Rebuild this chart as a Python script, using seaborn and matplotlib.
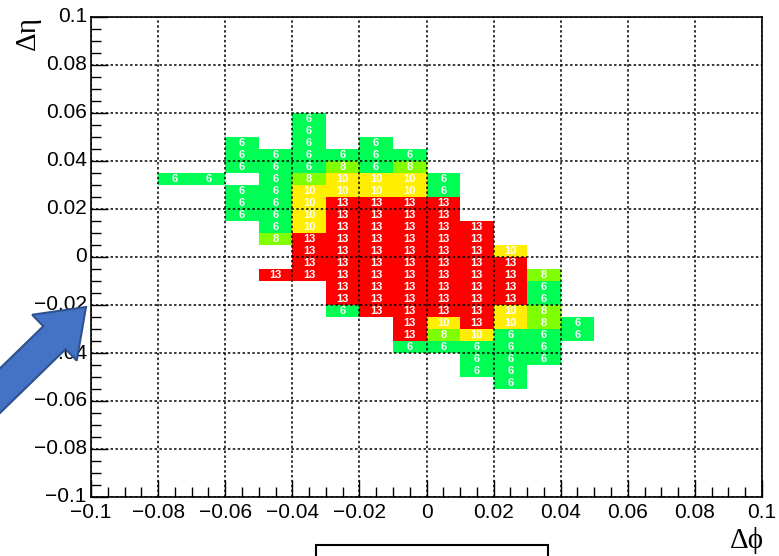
import numpy as np
import pandas as pd
import matplotlib
matplotlib.use("Agg")
import matplotlib.pyplot as plt
import seaborn as sns
from matplotlib.colors import ListedColormap
from matplotlib.ticker import MultipleLocator, FixedLocator
from matplotlib.patches import FancyArrow, Rectangle
from matplotlib.transforms import IdentityTransform

# ---------------- data ----------------
# lower edges of the filled bins
dphi_bins = [-0.08, -0.07, -0.06, -0.05, -0.04, -0.03, -0.02, -0.01, 0.00, 0.01, 0.02, 0.03, 0.04]
deta_bins = [0.055, 0.050, 0.045, 0.040, 0.035, 0.030, 0.025, 0.020, 0.015, 0.010, 0.005, 0.000,
             -0.005, -0.010, -0.015, -0.020, -0.025, -0.030, -0.035, -0.040, -0.045, -0.050, -0.055]
counts = [
    [0, 0, 0, 0, 6, 0, 0, 0, 0, 0, 0, 0, 0],
    [0, 0, 0, 0, 6, 0, 0, 0, 0, 0, 0, 0, 0],
    [0, 0, 6, 0, 6, 0, 6, 0, 0, 0, 0, 0, 0],
    [0, 0, 6, 6, 6, 6, 6, 6, 0, 0, 0, 0, 0],
    [0, 0, 6, 6, 6, 8, 6, 8, 0, 0, 0, 0, 0],
    [6, 6, 0, 6, 8, 10, 10, 10, 6, 0, 0, 0, 0],
    [0, 0, 6, 6, 10, 10, 10, 10, 6, 0, 0, 0, 0],
    [0, 0, 6, 6, 10, 13, 13, 13, 13, 0, 0, 0, 0],
    [0, 0, 6, 6, 10, 13, 13, 13, 13, 0, 0, 0, 0],
    [0, 0, 0, 6, 10, 13, 13, 13, 13, 13, 0, 0, 0],
    [0, 0, 0, 8, 13, 13, 13, 13, 13, 13, 0, 0, 0],
    [0, 0, 0, 0, 13, 13, 13, 13, 13, 13, 10, 0, 0],
    [0, 0, 0, 0, 13, 13, 13, 13, 13, 13, 13, 0, 0],
    [0, 0, 0, 13, 13, 13, 13, 13, 13, 13, 13, 8, 0],
    [0, 0, 0, 0, 0, 13, 13, 13, 13, 13, 13, 6, 0],
    [0, 0, 0, 0, 0, 13, 13, 13, 13, 13, 13, 6, 0],
    [0, 0, 0, 0, 0, 6, 13, 13, 13, 13, 10, 8, 0],
    [0, 0, 0, 0, 0, 0, 0, 13, 10, 13, 10, 8, 6],
    [0, 0, 0, 0, 0, 0, 0, 13, 8, 10, 6, 6, 6],
    [0, 0, 0, 0, 0, 0, 0, 6, 6, 6, 6, 6, 0],
    [0, 0, 0, 0, 0, 0, 0, 0, 0, 6, 6, 6, 0],
    [0, 0, 0, 0, 0, 0, 0, 0, 0, 6, 6, 0, 0],
    [0, 0, 0, 0, 0, 0, 0, 0, 0, 0, 6, 0, 0],
]
x_tick_values = [-0.1, -0.08, -0.06, -0.04, -0.02, 0.0, 0.02, 0.04, 0.06, 0.08, 0.1]
x_tick_labels = ["\u22120.1", "\u22120.08", "\u22120.06", "\u22120.04", "\u22120.02", "0",
                 "0.02", "0.04", "0.06", "0.08", "0.1"]
y_tick_values = [0.1, 0.08, 0.06, 0.04, 0.02, 0.0, -0.02, -0.04, -0.06, -0.08, -0.1]
y_tick_labels = ["0.1", "0.08", "0.06", "0.04", "0.02", "0",
                 "\u22120.02", "\u22120.04", "\u22120.06", "\u22120.08", "\u22120.1"]
x_label = "\u0394\u03d5"
y_label = "\u0394\u03b7"

# ---------------- full histogram grid ----------------
x_min, x_max, x_w = -0.1, 0.1, 0.01
y_min, y_max, y_h = -0.1, 0.1, 0.005
nx = int(round((x_max - x_min) / x_w))
ny = int(round((y_max - y_min) / y_h))
grid = np.zeros((ny, nx), dtype=int)
for r, eta in enumerate(deta_bins):
    i = int(round((y_max - y_h - eta) / y_h))
    for c, phi in enumerate(dphi_bins):
        j = int(round((phi - x_min) / x_w))
        grid[i, j] = counts[r][c]
x_cols = [round(x_min + x_w * j, 3) for j in range(nx)]
y_rows = [round(y_max - y_h * (i + 1), 3) for i in range(ny)]
df = pd.DataFrame(grid, index=y_rows, columns=x_cols)
mask = df.values == 0
annot = np.where(mask, "", df.values.astype(str))

# ---------------- figure ----------------
plt.rcParams["font.family"] = ["Liberation Sans", "DejaVu Sans"]
W, H = 779, 556
fig = plt.figure(figsize=(W / 100, H / 100), dpi=100)
fig.patch.set_facecolor("white")
L, R, T, B = 91, 762, 17, 497
ax = fig.add_axes([L / W, 1 - B / H, (R - L) / W, (B - T) / H])

green, lime, yellow, red = "#00ff55", "#80ff00", "#ffee00", "#ff0000"
cmap = ListedColormap([green, green, lime, lime, yellow, yellow, yellow, red])

sns.heatmap(df, mask=mask, cmap=cmap, vmin=6, vmax=14, cbar=False,
            annot=annot, fmt="",
            annot_kws={"color": "white", "fontsize": 8, "fontweight": "bold"},
            ax=ax)

# axes ticks in data units mapped to heatmap cell positions
xpos = [(v - x_min) / x_w for v in x_tick_values]
ypos = [(y_max - v) / y_h for v in y_tick_values]
ax.xaxis.set_major_locator(FixedLocator(xpos))
ax.yaxis.set_major_locator(FixedLocator(ypos))
ax.set_xticklabels(x_tick_labels, rotation=0)
ax.set_yticklabels(y_tick_labels, rotation=0, va="center")
ax.xaxis.set_minor_locator(MultipleLocator(0.5))
ax.yaxis.set_minor_locator(MultipleLocator(1))
ax.set_xlim(0, nx)
ax.set_ylim(ny, 0)
ax.set_xlabel("")
ax.set_ylabel("")

ax.tick_params(which="both", direction="in", top=False, right=False,
               color="black", width=1.0, labelsize=15, labelcolor="black")
ax.tick_params(which="major", length=12)
ax.tick_params(which="minor", length=7)
ax.tick_params(axis="x", which="major", pad=4)
ax.tick_params(axis="y", which="major", pad=3)

for s in ax.spines.values():
    s.set_visible(True)
    s.set_color("black")
    s.set_linewidth(1.2)

ax.set_axisbelow(False)
ax.grid(True, which="major", color="black", linestyle=(0, (1.6, 1.6)), linewidth=1.1)

# axis titles
serif = ["Liberation Serif", "DejaVu Serif"]
fig.text(28 / W, 1 - 16 / H, y_label, rotation=90, ha="center", va="top",
         fontsize=21, family=serif)
fig.text(764 / W, 8 / H, x_label, ha="right", va="baseline",
         fontsize=21, family=serif)

# overlay annotations (arrow and box)
tip = (86, H - 307)
start = (-25, H - 415)
arrow = FancyArrow(start[0], start[1], tip[0] - start[0], tip[1] - start[1],
                   width=32, head_width=64, head_length=44, length_includes_head=True,
                   facecolor="#4472C4", edgecolor="#2F528F", linewidth=1.5,
                   transform=IdentityTransform(), zorder=10)
fig.add_artist(arrow)
box = Rectangle((316, -20), 232, H - 545 + 20, facecolor="white", edgecolor="black",
                linewidth=1.5, transform=IdentityTransform(), zorder=10)
fig.add_artist(box)

fig.savefig("out.png", dpi=100)
